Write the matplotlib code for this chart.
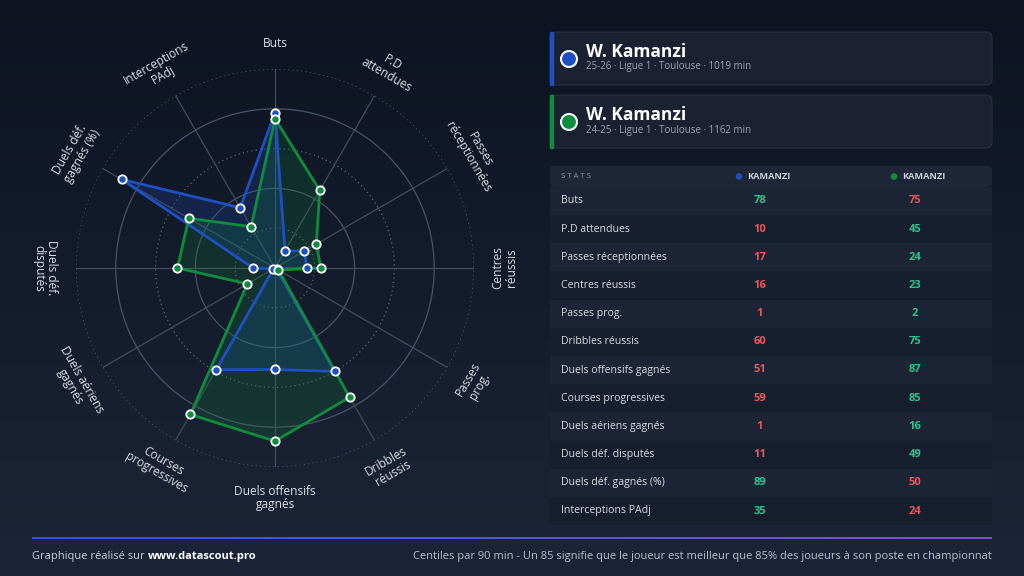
import matplotlib
matplotlib.use('Agg')
import matplotlib.pyplot as plt
from matplotlib.patches import FancyBboxPatch, Rectangle, Circle
from matplotlib.colors import LinearSegmentedColormap
import numpy as np

plt.rcParams['font.family'] = ['Open Sans', 'DejaVu Sans']

# données (centiles)
stats = ['Buts', 'P.D attendues', 'Passes réceptionnées', 'Centres réussis',
         'Passes prog.', 'Dribbles réussis', 'Duels offensifs gagnés',
         'Courses progressives', 'Duels aériens gagnés', 'Duels déf. disputés',
         'Duels déf. gagnés (%)', 'Interceptions PAdj']
radar_labels = ['Buts', 'P.D\nattendues', 'Passes\nréceptionnées', 'Centres\nréussis',
                'Passes\nprog.', 'Dribbles\nréussis', 'Duels offensifs\ngagnés',
                'Courses\nprogressives', 'Duels aériens\ngagnés', 'Duels déf.\ndisputés',
                'Duels déf.\ngagnés (%)', 'Interceptions\nPAdj']
blue_vals = [78, 10, 17, 16, 1, 60, 51, 59, 1, 11, 89, 35]
green_vals = [75, 45, 24, 23, 2, 75, 87, 85, 16, 49, 50, 24]
player_names = ['W. Kamanzi', 'W. Kamanzi']
player_infos = ['25-26 · Ligue 1 · Toulouse · 1019 min',
                '24-25 · Ligue 1 · Toulouse · 1162 min']
col_names = ['KAMANZI', 'KAMANZI']
rings = [20, 40, 60, 80, 100]

BLUE = '#1f50c2'
GREEN = '#0f8c3e'
UP = '#2dc48d'
DOWN = '#e9575b'
W, H = 1024, 576

fig = plt.figure(figsize=(W / 100, H / 100), dpi=100)

# fond dégradé
bg = fig.add_axes([0, 0, 1, 1], zorder=0)
top = np.array([13, 19, 33]) / 255
bot = np.array([28, 37, 55]) / 255
t = np.linspace(0, 1, 256)[:, None, None]
bg.imshow(top + (bot - top) * t, aspect='auto', extent=[0, 1, 0, 1])
bg.axis('off')

# radar
cx, cy, R = 275, 268, 199
ax = fig.add_axes([(cx - R) / W, (H - cy - R) / H, 2 * R / W, 2 * R / H],
                  projection='polar', zorder=2)
ax.set_theta_zero_location('N')
ax.set_theta_direction(-1)
ax.set_ylim(0, 100)
ax.axis('off')
ax.patch.set_alpha(0)

n = len(stats)
angles = np.arange(n) * 2 * np.pi / n
th = np.linspace(0, 2 * np.pi, 361)
for r in rings:
    if r in (40, 80):
        ax.plot(th, np.full_like(th, r), color='#4a5265', lw=0.9, zorder=1)
    else:
        ax.plot(th, np.full_like(th, r), color='#5a6478', lw=0.9,
                ls=(0, (1, 2.5)), zorder=1)
for a in angles:
    ax.plot([a, a], [0, 100], color='#434b5d', lw=0.9, zorder=1)

closed = np.append(angles, angles[0])
for vals, col, al in [(blue_vals, BLUE, 0.22), (green_vals, GREEN, 0.2)]:
    v = np.append(vals, vals[0])
    ax.fill(closed, v, color=col, alpha=al, lw=0, zorder=2)
    ax.plot(closed, v, color=col, lw=2, zorder=3)
for vals, col in [(blue_vals, BLUE), (green_vals, GREEN)]:
    ax.plot(angles, vals, 'o', ms=6, mfc=col, mec='white', mew=1.3, zorder=4)

for i, a in enumerate(angles):
    deg = i * 360 / n
    if 90 <= deg <= 270:
        rot = 180 - deg
    else:
        rot = -deg
    lab = radar_labels[i]
    rr = 113 if '\n' not in lab else 115.5
    ax.text(a, rr, lab, rotation=rot, rotation_mode='anchor', ha='center',
            va='center', fontsize=8.6, color='#d8dde5', linespacing=1.05,
            clip_on=False)

# panneau de droite
ov = fig.add_axes([0, 0, 1, 1], zorder=3)
ov.patch.set_alpha(0)
ov.axis('off')

colors = [BLUE, GREEN]
for k in range(2):
    y0 = 32 + k * 63
    ov.add_patch(FancyBboxPatch((550, y0), 442, 53,
                                boxstyle='round,pad=0,rounding_size=6',
                                fc='#1b2131', ec='#283042', lw=0.8))
    ov.add_patch(Rectangle((550, y0), 3, 53, color=colors[k]))
    ov.add_patch(Circle((569, y0 + 27), 8, fc=colors[k], ec='white', lw=1.5))
    ov.text(586, y0 + 20, player_names[k], fontsize=12.5, fontweight='bold',
            color='white', va='center')
    ov.text(586, y0 + 35, player_infos[k], fontsize=7, color='#9ba4b4',
            va='center')

# tableau
ov.add_patch(FancyBboxPatch((550, 166), 442, 21,
                            boxstyle='round,pad=0,rounding_size=4',
                            fc='#1e2637', ec='none'))
ov.text(561, 176.5, 'S T A T S', fontsize=5.6, color='#8a93a4', va='center')
for k, xc in enumerate([739, 894]):
    ov.add_patch(Circle((xc, 176.5), 3.3, fc=colors[k], ec='none'))
    ov.text(xc + 8, 176.5, col_names[k], fontsize=6.6, fontweight='bold',
            color='#c8cfd9', va='center')

row_h = 28.2
for j in range(n):
    y = 186.7 + j * row_h
    fc = '#1d2435' if j % 2 == 0 else '#171e2e'
    ov.add_patch(Rectangle((550, y), 442, row_h, fc=fc, ec='none'))
    ym = y + row_h / 2
    ov.text(561, ym, stats[j], fontsize=7.6, color='#d5dae2', va='center')
    b, g = blue_vals[j], green_vals[j]
    ov.text(760, ym, str(b), fontsize=8, fontweight='bold', ha='center',
            va='center', color=UP if b > g else DOWN)
    ov.text(915, ym, str(g), fontsize=8, fontweight='bold', ha='center',
            va='center', color=UP if g > b else DOWN)

# pied de page
cmap = LinearSegmentedColormap.from_list('foot', ['#2a5bd6', '#7b4fd6'])
ov.imshow(np.linspace(0, 1, 256)[None, :], cmap=cmap, aspect='auto',
          extent=[32, 992, 539.2, 537.2], zorder=2)
ov.set_xlim(0, W)
ov.set_ylim(H, 0)

t1 = ov.text(32, 556, 'Graphique réalisé sur', fontsize=8, color='#c9d0db',
             va='center')
fig.canvas.draw()
x_end = t1.get_window_extent().x1
ov.text(x_end + 3.5, 556, 'www.datascout.pro', fontsize=8, fontweight='bold',
        color='white', va='center')
ov.text(992, 556, 'Centiles par 90 min - Un 85 signifie que le joueur est meilleur '
        'que 85% des joueurs à son poste en championnat', fontsize=8,
        color='#b9c0cc', va='center', ha='right')

fig.savefig('out.png', dpi=100)
